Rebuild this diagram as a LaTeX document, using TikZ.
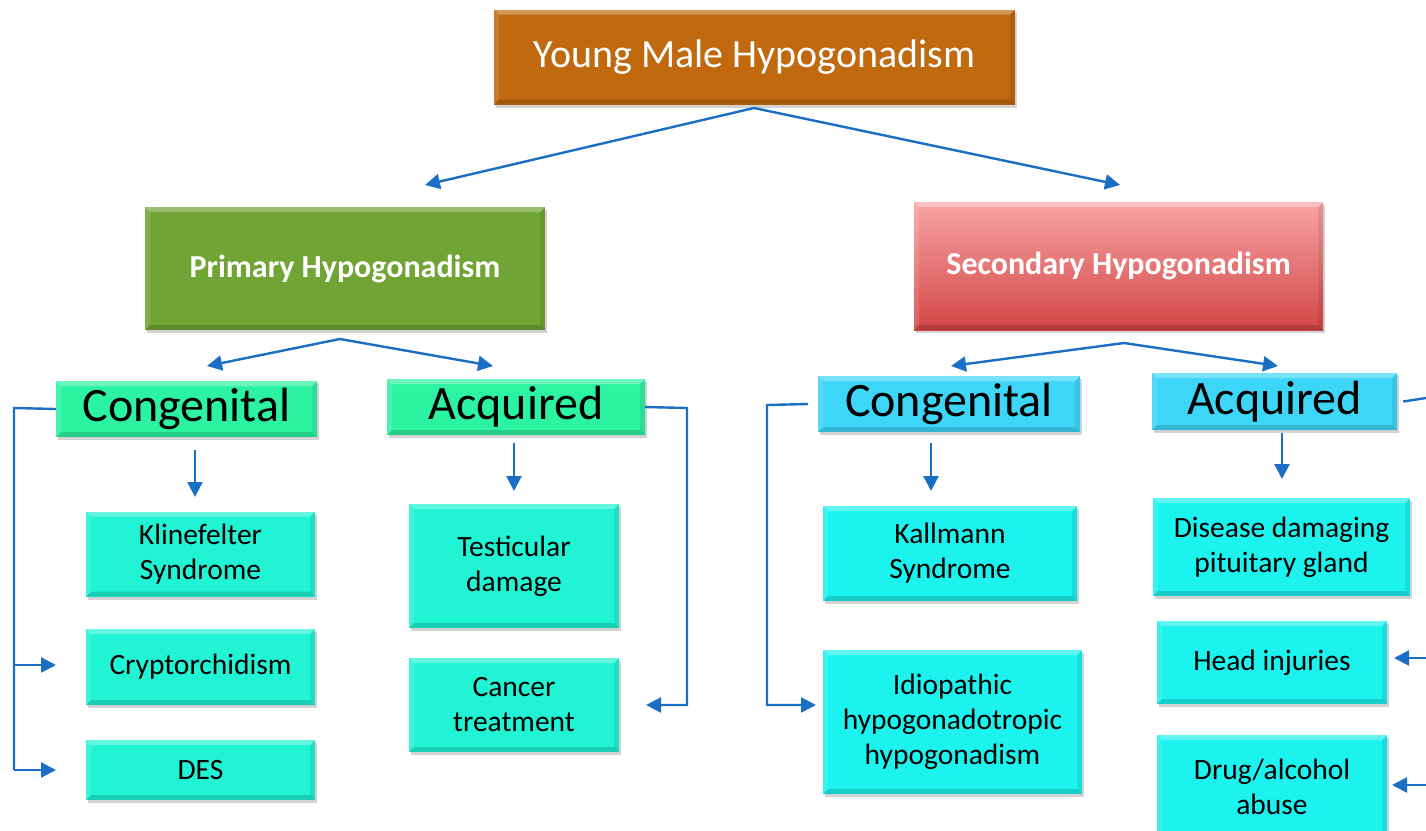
\documentclass[tikz,border=0pt]{standalone}
\usepackage{fontspec}
\setmainfont{Carlito}
\usetikzlibrary{shadows,arrows.meta,calc}
\definecolor{ora}{HTML}{C0690F}
\definecolor{grn}{HTML}{70A434}
\definecolor{redtop}{HTML}{F8A4A4}
\definecolor{redbot}{HTML}{D24646}
\definecolor{mint}{HTML}{2CF3A2}
\definecolor{sky}{HTML}{3DD6F8}
\definecolor{turq}{HTML}{20F4D4}
\definecolor{cyanb}{HTML}{1CF2EE}
\definecolor{arr}{HTML}{1A6FC4}
\tikzset{
  bx/.style={inner sep=0pt, align=center, font=\fontsize{29.5}{35}\selectfont,
    drop shadow={opacity=0.35, shadow xshift=2pt, shadow yshift=-3pt},
    path picture={
      \fill[white,opacity=0.30] (path picture bounding box.north west) -- (path picture bounding box.north east) -- ([xshift=-5pt,yshift=-5pt]path picture bounding box.north east) -- ([xshift=5pt,yshift=-5pt]path picture bounding box.north west) -- cycle;
      \fill[black,opacity=0.15] (path picture bounding box.south west) -- (path picture bounding box.south east) -- ([xshift=-5pt,yshift=5pt]path picture bounding box.south east) -- ([xshift=5pt,yshift=5pt]path picture bounding box.south west) -- cycle;
      \fill[black,opacity=0.08] (path picture bounding box.south east) -- (path picture bounding box.north east) -- ([xshift=-5pt,yshift=-5pt]path picture bounding box.north east) -- ([xshift=-5pt,yshift=5pt]path picture bounding box.south east) -- cycle;
      \fill[white,opacity=0.12] (path picture bounding box.south west) -- (path picture bounding box.north west) -- ([xshift=5pt,yshift=-5pt]path picture bounding box.north west) -- ([xshift=5pt,yshift=5pt]path picture bounding box.south west) -- cycle;
    }},
  con/.style={draw=arr, line width=2.4pt, -{Triangle[length=15pt,width=15pt]}},
  lin/.style={draw=arr, line width=2.4pt},
}
\begin{document}
\begin{tikzpicture}[x=1pt,y=-1pt]
\useasboundingbox (0,0) rectangle (1426,830);
\clip (0,0) rectangle (1426,830);
% nodes
\node[bx, fill=ora, text=white, minimum width=521pt, minimum height=95pt, font=\fontsize{40}{44}\selectfont] (top) at (754.5,57) {Young Male Hypogonadism};
\node[bx, fill=grn, text=white, minimum width=400pt, minimum height=123pt, font=\bfseries\fontsize{32}{36}\selectfont] (prim) at (345,268.5) {Primary Hypogonadism};
\node[bx, top color=redtop, bottom color=redbot, text=white, minimum width=409pt, minimum height=128pt, font=\bfseries\fontsize{32}{36}\selectfont] (sec) at (1118.5,266) {Secondary Hypogonadism};
\node[bx, fill=mint, minimum width=261pt, minimum height=56pt, font=\fontsize{48}{52}\selectfont] (cgL) at (186.5,409) {Congenital};
\node[bx, fill=mint, minimum width=258pt, minimum height=56pt, font=\fontsize{48}{52}\selectfont] (acL) at (516,407) {Acquired};
\node[bx, fill=sky, minimum width=262pt, minimum height=56pt, font=\fontsize{48}{52}\selectfont] (cgR) at (949,404) {Congenital};
\node[bx, fill=sky, minimum width=245pt, minimum height=57pt, font=\fontsize{48}{52}\selectfont] (acR) at (1274.5,401.5) {Acquired};
\node[bx, fill=turq, minimum width=229pt, minimum height=85pt] (kline) at (200.5,554) {Klinefelter\\Syndrome};
\node[bx, fill=turq, minimum width=229pt, minimum height=76pt] (crypt) at (200.5,667) {Cryptorchidism};
\node[bx, fill=turq, minimum width=229pt, minimum height=60pt] (des) at (200.5,770) {DES};
\node[bx, fill=turq, minimum width=210pt, minimum height=124pt] (test) at (514,566) {Testicular\\damage};
\node[bx, fill=turq, minimum width=210pt, minimum height=94pt] (canc) at (514,705) {Cancer\\treatment};
\node[bx, fill=cyanb, minimum width=254pt, minimum height=95pt] (kall) at (950,553.5) {Kallmann\\Syndrome};
\node[bx, fill=cyanb, minimum width=259pt, minimum height=144pt] (idio) at (952.5,722) {Idiopathic\\hypogonadotropic\\hypogonadism};
\node[bx, fill=cyanb, minimum width=257pt, minimum height=98pt] (dis) at (1281.5,547) {Disease damaging\\pituitary gland};
\node[bx, fill=cyanb, minimum width=230pt, minimum height=83pt] (head) at (1272,662.5) {Head injuries};
\node[bx, fill=cyanb, minimum width=230pt, minimum height=104pt] (drug) at (1272,787) {Drug/alcohol\\abuse};
% coordinates
\coordinate (tA) at (754,108);
\coordinate (tL) at (425,185);
\coordinate (tR) at (1120,185);
\coordinate (pA) at (340,339);
\coordinate (pL) at (207,366);
\coordinate (pR) at (493,366);
\coordinate (sA) at (1124,343);
\coordinate (sL) at (951,366);
\coordinate (sR) at (1278,366);
\coordinate (c1a) at (195,450); \coordinate (c1b) at (195,497);
\coordinate (c2a) at (514,443); \coordinate (c2b) at (514,491);
\coordinate (c3a) at (931,443); \coordinate (c3b) at (931,491);
\coordinate (c4a) at (1282,433); \coordinate (c4b) at (1282,479);
\coordinate (bL1) at (14,408); \coordinate (bL2) at (14,770);
\coordinate (bLc) at (14,665); \coordinate (bLce) at (56,665); \coordinate (bLde) at (56,770);
\coordinate (bA1) at (687,408); \coordinate (bA2) at (687,705); \coordinate (bAe) at (646,705);
\coordinate (bR1) at (767,405); \coordinate (bR2) at (767,705); \coordinate (bRe) at (816,705);
\coordinate (eR1) at (1426,398);
\coordinate (eR2) at (1426,658); \coordinate (eR2e) at (1394,658);
\coordinate (eR3) at (1426,785); \coordinate (eR3e) at (1392,785);
% connectors
\draw[con] (tA) -- (tL);
\draw[con] (tA) -- (tR);
\draw[con] (pA) -- (pL);
\draw[con] (pA) -- (pR);
\draw[con] (sA) -- (sL);
\draw[con] (sA) -- (sR);
\draw[con] (c1a) -- (c1b);
\draw[con] (c2a) -- (c2b);
\draw[con] (c3a) -- (c3b);
\draw[con] (c4a) -- (c4b);
\draw[lin] (cgL.west) -- (bL1) -- (bL2);
\draw[con] (bLc) -- (bLce);
\draw[con] (bL2) -- (bLde);
\draw[con] (acL.east) -- (bA1) -- (bA2) -- (bAe);
\draw[con] ([xshift=-10pt]cgR.west) -- (bR1) -- (bR2) -- (bRe);
\draw[lin] ([xshift=6pt]acR.east) -- (eR1);
\draw[con] (eR2) -- (eR2e);
\draw[con] (eR3) -- (eR3e);
\end{tikzpicture}
\end{document}
